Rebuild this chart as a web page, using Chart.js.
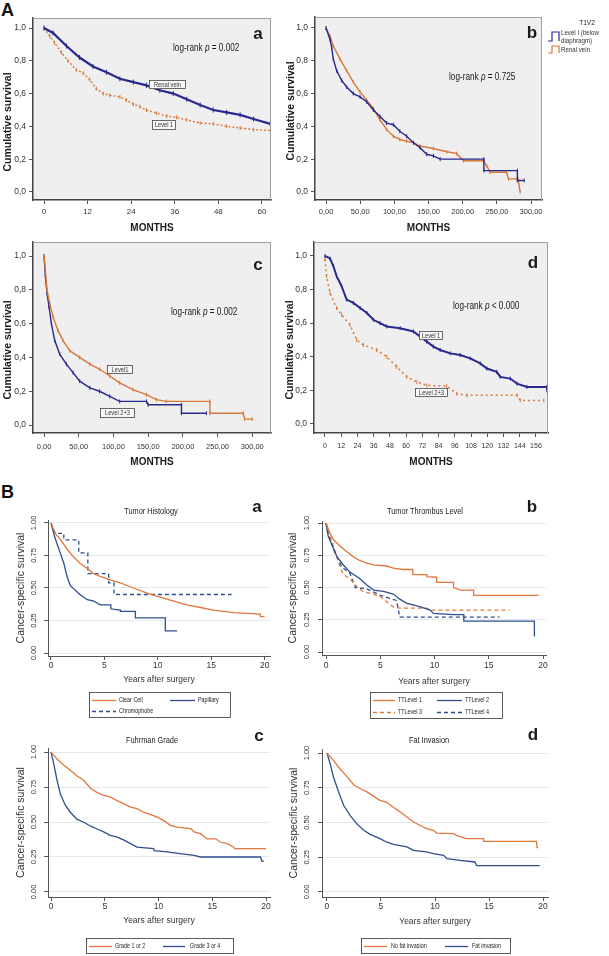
<!DOCTYPE html>
<html><head><meta charset="utf-8">
<script src="https://cdn.jsdelivr.net/npm/chart.js@4.4.1/dist/chart.umd.min.js"></script>
<style>
html,body{margin:0;padding:0;background:#fff}
body{position:relative;width:609px;height:956px;overflow:hidden;font-family:"Liberation Sans",Arial,sans-serif}
canvas{position:absolute}
.big{position:absolute;font-weight:bold;font-size:18px;line-height:1;color:#111}
</style></head><body>
<div class="big" style="left:1px;top:1px">A</div>
<div class="big" style="left:1px;top:483px">B</div>
<canvas id="Aa"></canvas><canvas id="Ab"></canvas><canvas id="Ac"></canvas><canvas id="Ad"></canvas>
<canvas id="Ba"></canvas><canvas id="Bb"></canvas><canvas id="Bc"></canvas><canvas id="Bd"></canvas>
<script>
// ================= DATA =================
// --- Panel A-a ---
const aaXTicks = [0,12,24,36,48,60];
const aaXLabels = ['0','12','24','36','48','60'];
const aYTicks = [0,0.2,0.4,0.6,0.8,1.0];
const aYLabels = ['0,0','0,2','0,4','0,6','0,8','1,0'];
const aaRenalMonths = [0,2.5,6.2,9.8,13.5,17.2,20.9,24.6,28.2,31.9,35.6,39.3,43,46.6,50.3,54,57.7,62.3];
const aaRenalSurv   = [1,0.97,0.89,0.82,0.765,0.73,0.69,0.67,0.65,0.62,0.60,0.565,0.53,0.50,0.485,0.47,0.445,0.415];
const aaLevel1Months = [0,1.6,2.9,4.8,6.6,8.9,10.8,12.6,14.4,16.3,18.1,20.9,22.7,24.6,26.4,28.2,31,33.8,36.5,39.3,43,46.6,50.3,54,57.7,62.3];
const aaLevel1Surv   = [1,0.95,0.91,0.85,0.80,0.745,0.725,0.685,0.63,0.60,0.59,0.58,0.56,0.535,0.52,0.50,0.48,0.463,0.455,0.44,0.42,0.415,0.40,0.39,0.38,0.375];
// --- Panel A-b ---
const abXTicks = [0,50,100,150,200,250,300];
const abXLabels = ['0,00','50,00','100,00','150,00','200,00','250,00','300,00'];
const abLevelIMonths = [0,5.9,8.3,10.7,15.6,22.9,30.2,40,49.8,59.5,69.3,79,88.8,98.5,108,118,128,137.6,147.3,157,167,231,231,280,280,290];
const abLevelISurv   = [1,0.93,0.88,0.81,0.74,0.68,0.64,0.60,0.58,0.55,0.50,0.46,0.42,0.41,0.37,0.34,0.30,0.27,0.23,0.22,0.20,0.20,0.13,0.13,0.07,0.07];
const abRenalMonths = [0,5.9,10.7,20.5,30.2,40,49.8,59.5,69.3,79,88.8,98.5,108,118,128,137.6,157,176.6,191,201,230,235,240,264,267,281,284];
const abRenalSurv   = [1,0.95,0.89,0.81,0.74,0.67,0.61,0.56,0.51,0.44,0.38,0.34,0.32,0.31,0.30,0.28,0.265,0.245,0.235,0.19,0.19,0.16,0.12,0.12,0.08,0.08,0.0];
// --- Panel A-c ---
const acXTicks = [0,50,100,150,200,250,300];
const acXLabels = ['0,00','50,00','100,00','150,00','200,00','250,00','300,00'];
const acLevel1Months = [0,1.9,4.3,8.2,13,20,27.4,37,51.4,66,80.3,94.7,109,128,147.6,162,176,239,239,287,289,300];
const acLevel1Surv   = [1,0.92,0.80,0.72,0.64,0.56,0.50,0.44,0.40,0.36,0.33,0.29,0.25,0.21,0.18,0.15,0.14,0.14,0.07,0.07,0.035,0.035];
const acLevel23Months = [0,1.9,4.3,7.2,10.6,15.4,22.6,32.2,41.8,51.4,66,80,94.7,109,147.6,150,198,198,234];
const acLevel23Surv   = [1,0.88,0.78,0.70,0.60,0.50,0.42,0.36,0.31,0.26,0.22,0.20,0.17,0.14,0.14,0.12,0.12,0.07,0.07];
// --- Panel A-d ---
const adXTicks = [0,12,24,36,48,60,72,84,96,108,120,132,144,156];
const adXLabels = ['0','12','24','36','48','60','72','84','96','108','120','132','144','156'];
const adLevel1Months = [0,3.7,6.2,8.6,12.3,16,21,26,31,35.8,40.7,45.7,55.6,65.4,70.4,75.3,80.2,85.2,92.6,100,107.4,114.8,119.7,127,129.6,137,142,149.3,164,164.5];
const adLevel1Surv   = [1,0.985,0.94,0.88,0.82,0.74,0.72,0.69,0.66,0.62,0.60,0.58,0.57,0.55,0.52,0.49,0.46,0.44,0.42,0.41,0.39,0.36,0.33,0.31,0.28,0.27,0.24,0.22,0.22,0.19];
const adLevel23Months = [0,1.2,3.7,8.6,12.3,18.5,23.5,28.4,38.2,45.7,53,60.5,68,75.3,90,97.5,105,142,144.4,161.8];
const adLevel23Surv   = [0.98,0.88,0.78,0.69,0.65,0.59,0.50,0.47,0.44,0.40,0.34,0.28,0.25,0.23,0.225,0.18,0.17,0.17,0.14,0.14];
// --- Panels B (shared ticks) ---
const bXTicks = [0,5,10,15,20];
const bXLabels = ['0','5','10','15','20'];
const bYTicks = [0,0.25,0.5,0.75,1];
const bYLabels = ['0.00','0.25','0.50','0.75','1.00'];
// --- Panel B-a Tumor Histology ---
const baClearYears = [0,0.4,0.9,1.5,2.1,2.7,3.4,4,4.6,5.6,6.5,7.7,9,10.2,11.5,12.7,14,15.2,17.1,19.6,19.6,20];
const baClearSurv  = [1,0.92,0.87,0.80,0.74,0.69,0.65,0.61,0.59,0.56,0.54,0.50,0.46,0.43,0.40,0.37,0.35,0.33,0.31,0.30,0.28,0.28];
const baPapYears = [0,0.25,0.56,0.87,1.2,1.5,1.8,2.3,2.7,3.4,4,4.6,5.6,5.6,6.5,6.5,7.9,7.9,10.7,10.7,11.8];
const baPapSurv  = [1,0.92,0.84,0.77,0.69,0.59,0.52,0.48,0.45,0.41,0.40,0.37,0.37,0.34,0.33,0.32,0.32,0.27,0.27,0.17,0.17];
const baChromYears = [0,0.4,1.2,1.2,2.6,2.6,3.45,3.45,5.4,5.4,5.9,5.9,16.9];
const baChromSurv  = [1,0.92,0.92,0.87,0.87,0.77,0.77,0.61,0.61,0.54,0.54,0.45,0.45];
// --- Panel B-b Tumor Thrombus Level ---
const bbTT1Years = [0,0.37,0.7,1.3,1.9,2.5,3.1,3.75,4.4,5.6,6.2,7.1,8,8,9.3,9.3,10.2,10.2,11.75,11.75,12.4,13.6,13.6,19.6];
const bbTT1Surv  = [1,0.92,0.87,0.82,0.78,0.74,0.71,0.69,0.675,0.667,0.65,0.64,0.64,0.60,0.60,0.585,0.58,0.54,0.54,0.50,0.48,0.48,0.44,0.44];
const bbTT2Years = [0,0.2,0.5,1,1.6,2.2,3.1,3.75,4.4,5.3,6.2,6.8,7.4,8.7,9.6,9.9,11.75,12.7,12.7,19.2,19.2];
const bbTT2Surv  = [1,0.90,0.84,0.74,0.675,0.62,0.57,0.52,0.48,0.47,0.45,0.41,0.38,0.35,0.325,0.30,0.29,0.29,0.24,0.24,0.12];
const bbTT3Years = [0,0.37,0.8,1.3,1.6,2.2,2.8,3.4,4.1,5,5.6,6.2,6.8,9.3,9.6,16.9];
const bbTT3Surv  = [1,0.90,0.79,0.66,0.60,0.57,0.51,0.47,0.455,0.43,0.39,0.35,0.34,0.34,0.325,0.325];
const bbTT4Years = [0,0.1,0.37,0.83,1.45,2.2,2.7,3.75,5,6.5,6.8,16];
const bbTT4Surv  = [1,0.95,0.87,0.77,0.66,0.61,0.50,0.49,0.44,0.40,0.27,0.27];
// --- Panel B-c Fuhrman Grade ---
const bcG12Years = [0,0.56,1.2,1.8,2.4,3,3.7,4.3,4.9,5.5,6.1,6.8,7.4,8,8.6,9.2,9.9,10.5,11.1,11.7,13,13.3,13.9,14.5,15.3,15.75,16.4,17,17.1,20];
const bcG12Surv  = [1,0.95,0.905,0.87,0.83,0.80,0.74,0.71,0.69,0.68,0.655,0.63,0.607,0.595,0.57,0.555,0.535,0.51,0.476,0.464,0.452,0.43,0.417,0.38,0.38,0.357,0.345,0.32,0.31,0.31];
const bcG34Years = [0,0.25,0.56,0.87,1.33,1.8,2.4,3,3.7,4.3,4.9,5.5,6.1,6.8,7.4,8,9.55,9.6,10.8,12,13.3,13.9,19.5,19.6,19.8];
const bcG34Surv  = [1,0.917,0.80,0.70,0.62,0.57,0.52,0.50,0.47,0.45,0.43,0.405,0.393,0.37,0.345,0.32,0.31,0.295,0.286,0.274,0.262,0.25,0.25,0.22,0.22];
// --- Panel B-d Fat Invasion ---
const bdNoFatYears = [0,0.6,1.2,1.85,2.5,3.1,3.7,4.3,4.9,5.5,6.15,6.8,7.4,8,8.6,9.2,9.85,10.15,11.7,12,12.9,14.5,14.5,19.4,19.45,19.55];
const bdNoFatSurv  = [1,0.947,0.887,0.83,0.77,0.743,0.72,0.69,0.66,0.647,0.61,0.575,0.54,0.504,0.48,0.456,0.444,0.424,0.42,0.408,0.384,0.384,0.364,0.364,0.32,0.32];
const bdFatYears = [0,0.3,0.6,1.08,1.54,2.15,2.77,3.4,4,4.9,5.5,6.15,7.4,8,9.2,9.85,10.8,11.1,12.3,13.7,13.85,19.7];
const bdFatSurv  = [1,0.923,0.827,0.72,0.624,0.55,0.49,0.444,0.415,0.384,0.36,0.343,0.324,0.30,0.288,0.276,0.264,0.24,0.228,0.216,0.19,0.19];

// ================= STYLE =================
const NARROW = '"Liberation Sans", Arial, sans-serif';
const REG = '"Liberation Sans", Arial, sans-serif';
const NAVY = '#28288e', AOR = '#d9783b';
const BOR = '#e2773b', BBL = '#2f4e8f';

const panels = [
 {id:'Aa', kind:'A', left:0, top:10, w:282, h:228, plot:{l:33,t:18,r:271,b:200}, xH:38,
  xMin:-3.03, xMax:62.5, yMin:-0.049, yMax:1.061, xTicks:aaXTicks, xLabels:aaXLabels, yTicks:aYTicks, yLabels:aYLabels,
  xTickPad:3, xTickSize:8, xTitle:'MONTHS', xTitlePad:4,
  series:[
   {label:'Renal vein', t:aaRenalMonths, s:aaRenalSurv, color:NAVY, width:2.2, marks:2.5},
   {label:'Level 1', t:aaLevel1Months, s:aaLevel1Surv, color:AOR, width:1.4, dash:[2,2], marks:2}],
  texts:[{t:'Cumulative survival', x:8, y:122, size:10.5, weight:'bold', rot:-90, sx:1},
         {parts:[['log-rank ',''],['p','i'],[' = 0.002','']], x:173, y:48, size:10, align:'left'},
         {t:'a', x:258, y:34, size:17, weight:'bold', sx:1}],
  boxes:[{t:'Renal vein', x1:149,y1:80,x2:186,y2:89},{t:'Level 1', x1:152,y1:120,x2:176,y2:130}]},
 {id:'Ab', kind:'A', left:282, top:10, w:327, h:228, plot:{l:315,t:17,r:542,b:200}, xH:38,
  xMin:-16.1, xMax:316, yMin:-0.049, yMax:1.067, xTicks:abXTicks, xLabels:abXLabels, yTicks:aYTicks, yLabels:aYLabels,
  xTickPad:3, xTickSize:7.5, xTitle:'MONTHS', xTitlePad:4,
  series:[
   {label:'Level I (below diaphragm)', t:abLevelIMonths, s:abLevelISurv, color:NAVY, width:1.4, marks:2},
   {label:'Renal vein', t:abRenalMonths, s:abRenalSurv, color:AOR, width:1.4, marks:1.8}],
  texts:[{t:'Cumulative survival', x:291, y:111, size:10.5, weight:'bold', rot:-90, sx:1},
         {parts:[['log-rank ',''],['p','i'],[' = 0.725','']], x:449, y:77, size:10, align:'left'},
         {t:'b', x:532, y:33, size:17, weight:'bold', sx:1},
         {t:'T1V2', x:587, y:23, size:8}],
  stepLegend:[{ds:0, lines:['Level I (below','diaphragm)'], y1:32, y2:41, ty:33},
              {ds:1, lines:['Renal vein'], y1:46, y2:53, ty:50}]},
 {id:'Ac', kind:'A', left:0, top:238, w:282, h:232, plot:{l:33,t:242,r:271,b:433}, xH:37,
  xMin:-15.9, xMax:327, yMin:-0.047, yMax:1.083, xTicks:acXTicks, xLabels:acXLabels, yTicks:aYTicks, yLabels:aYLabels,
  xTickPad:5, xTickSize:7.5, xTitle:'MONTHS', xTitlePad:2,
  series:[
   {label:'Level1', t:acLevel1Months, s:acLevel1Surv, color:AOR, width:1.4, marks:2},
   {label:'Level 2+3', t:acLevel23Months, s:acLevel23Surv, color:NAVY, width:1.4, marks:2}],
  texts:[{t:'Cumulative survival', x:8, y:350, size:10.5, weight:'bold', rot:-90, sx:1},
         {parts:[['log-rank ',''],['p','i'],[' = 0.002','']], x:171, y:312, size:10, align:'left'},
         {t:'c', x:258, y:265, size:17, weight:'bold', sx:1}],
  boxes:[{t:'Level1', x1:107,y1:365,x2:133,y2:374},{t:'Level 2+3', x1:100,y1:408,x2:135,y2:418}]},
 {id:'Ad', kind:'A', left:282, top:238, w:327, h:232, plot:{l:314,t:242,r:548,b:433}, xH:37,
  xMin:-8.1, xMax:164.9, yMin:-0.054, yMax:1.083, xTicks:adXTicks, xLabels:adXLabels, yTicks:aYTicks, yLabels:aYLabels,
  xTickPad:5, xTickSize:7, xTitle:'MONTHS', xTitlePad:2,
  series:[
   {label:'Level 1', t:adLevel1Months, s:adLevel1Surv, color:NAVY, width:2, marks:2},
   {label:'Level 2+3', t:adLevel23Months, s:adLevel23Surv, color:AOR, width:1.5, dash:[2,3], marks:2}],
  texts:[{t:'Cumulative survival', x:290, y:350, size:10.5, weight:'bold', rot:-90, sx:1},
         {parts:[['log-rank ',''],['p','i'],[' < 0.000','']], x:453, y:306, size:10, align:'left'},
         {t:'d', x:533, y:263, size:17, weight:'bold', sx:1}],
  boxes:[{t:'Level 1', x1:419,y1:331,x2:443,y2:340},{t:'Level 2+3', x1:415,y1:388,x2:448,y2:397}]},
 {id:'Ba', kind:'B', left:0, top:500, w:300, h:222, plot:{l:48,t:520,r:270,b:656}, xH:34,
  xMin:-0.28, xMax:20.5, yMin:-0.023, yMax:1.023, xTicks:bXTicks, xLabels:bXLabels, yTicks:bYTicks, yLabels:bYLabels,
  xTickPad:0.5, xTickSize:8.5, xTitle:'Years after surgery', xTitlePad:5, yTitlePad:15, yTickPad:2.6,
  series:[
   {label:'Clear Cell', t:baClearYears, s:baClearSurv, color:BOR, width:1.3},
   {label:'Papillary', t:baPapYears, s:baPapSurv, color:BBL, width:1.3},
   {label:'Chromophobe', t:baChromYears, s:baChromSurv, color:BBL, width:1.3, dash:[4,3]}],
  texts:[{t:'Tumor Histology', x:151, y:512, size:9},{t:'a', x:257, y:507, size:17, weight:'bold', sx:1}],
  legend:{box:[89,692,230,717], items:[{ds:0,l1:92,l2:116,tx:119,y:700},{ds:1,l1:170,l2:195,tx:198,y:700},{ds:2,l1:92,l2:116,tx:119,y:711}]}},
 {id:'Bb', kind:'B', left:274, top:500, w:335, h:222, plot:{l:322,t:521,r:546,b:655}, xH:35,
  xMin:-0.37, xMax:20.27, yMin:-0.023, yMax:1.016, xTicks:bXTicks, xLabels:bXLabels, yTicks:bYTicks, yLabels:bYLabels,
  xTickPad:1.5, xTickSize:8.5, xTitle:'Years after surgery', xTitlePad:3, yTitlePad:13, yTickPad:3.6,
  series:[
   {label:'TTLevel 1', t:bbTT1Years, s:bbTT1Surv, color:BOR, width:1.3},
   {label:'TTLevel 2', t:bbTT2Years, s:bbTT2Surv, color:BBL, width:1.3},
   {label:'TTLevel 3', t:bbTT3Years, s:bbTT3Surv, color:BOR, width:1.3, dash:[4,3]},
   {label:'TTLevel 4', t:bbTT4Years, s:bbTT4Surv, color:BBL, width:1.3, dash:[4,3]}],
  texts:[{t:'Tumor Thrombus Level', x:425, y:512, size:9},{t:'b', x:532, y:507, size:17, weight:'bold', sx:1}],
  legend:{box:[370,692,502,718], items:[{ds:0,l1:373,l2:395,tx:398,y:700},{ds:1,l1:437,l2:462,tx:465,y:700},{ds:2,l1:373,l2:395,tx:398,y:712},{ds:3,l1:437,l2:462,tx:465,y:712}]}},
 {id:'Bc', kind:'B', left:0, top:722, w:300, h:234, plot:{l:48,t:748,r:270,b:897}, xH:34,
  xMin:-0.28, xMax:20.37, yMin:-0.036, yMax:1.029, xTicks:bXTicks, xLabels:bXLabels, yTicks:bYTicks, yLabels:bYLabels,
  xTickPad:0.5, xTickSize:8.5, xTitle:'Years after surgery', xTitlePad:5, yTitlePad:15, yTickPad:2.6,
  series:[
   {label:'Grade 1 or 2', t:bcG12Years, s:bcG12Surv, color:BOR, width:1.3},
   {label:'Grade 3 or 4', t:bcG34Years, s:bcG34Surv, color:BBL, width:1.3}],
  texts:[{t:'Fuhrman Grade', x:152, y:741, size:9},{t:'c', x:259, y:736, size:17, weight:'bold', sx:1}],
  legend:{box:[86,938,233,953], items:[{ds:0,l1:89,l2:112,tx:115,y:946},{ds:1,l1:163,l2:185,tx:190,y:946}]}},
 {id:'Bd', kind:'B', left:274, top:722, w:335, h:234, plot:{l:322,t:749,r:548,b:897}, xH:34,
  xMin:-0.46, xMax:20.46, yMin:-0.036, yMax:1.029, xTicks:bXTicks, xLabels:bXLabels, yTicks:bYTicks, yLabels:bYLabels,
  xTickPad:0.5, xTickSize:8.5, xTitle:'Years after surgery', xTitlePad:4, yTitlePad:14, yTickPad:3.6,
  series:[
   {label:'No fat invasion', t:bdNoFatYears, s:bdNoFatSurv, color:BOR, width:1.3},
   {label:'Fat invasion', t:bdFatYears, s:bdFatSurv, color:BBL, width:1.3}],
  texts:[{t:'Fat Invasion', x:429, y:741, size:9},{t:'d', x:533, y:735, size:17, weight:'bold', sx:1}],
  legend:{box:[361,938,510,953], items:[{ds:0,l1:364,l2:387,tx:391,y:946},{ds:1,l1:445,l2:468,tx:472,y:946}]}}
];

// ================= DRAWING =================
const SPEC = {};
function drawText(ctx, e, ox, oy){
  ctx.save();
  ctx.translate(e.x - ox, e.y - oy);
  if (e.rot) ctx.rotate(e.rot * Math.PI / 180);
  const sx = e.sx !== undefined ? e.sx : 0.82;   // condensed look of the original lettering
  ctx.scale(sx, 1);
  ctx.fillStyle = e.color || '#1a1a1a';
  ctx.textBaseline = 'middle';
  ctx.textAlign = 'left';
  const parts = e.parts || [[e.t, '']];
  const fam = e.family || REG;
  const fontOf = st => (st === 'i' ? 'italic ' : '') + (e.weight || 'normal') + ' ' + e.size + 'px ' + fam;
  let total = 0;
  parts.forEach(pp => { ctx.font = fontOf(pp[1]); total += ctx.measureText(pp[0]).width; });
  let x = e.align === 'left' ? 0 : (e.align === 'right' ? -total : -total / 2);
  parts.forEach(pp => { ctx.font = fontOf(pp[1]); ctx.fillText(pp[0], x, 0); x += ctx.measureText(pp[0]).width; });
  ctx.restore();
}
const decor = {
  id: 'decor',
  beforeDraw(chart) {
    const p = SPEC[chart.canvas.id]; const a = chart.chartArea; const ctx = chart.ctx;
    if (p.kind === 'A') {
      ctx.save(); ctx.fillStyle = '#efefef';
      ctx.fillRect(a.left, a.top, a.right - a.left, a.bottom - a.top);
      ctx.restore();
    }
  },
  afterDraw(chart) {
    const p = SPEC[chart.canvas.id]; const a = chart.chartArea; const ctx = chart.ctx;
    const ox = p.left, oy = p.top;
    ctx.save();
    if (p.kind === 'A') {
      ctx.strokeStyle = '#a0a0a0'; ctx.lineWidth = 1;
      ctx.beginPath();
      ctx.moveTo(a.left, a.top + 0.5); ctx.lineTo(a.right - 0.5, a.top + 0.5); ctx.lineTo(a.right - 0.5, a.bottom);
      ctx.stroke();
    }
    (p.boxes || []).forEach(b => {
      ctx.fillStyle = '#f8f8f8';
      ctx.fillRect(b.x1 - ox, b.y1 - oy, b.x2 - b.x1, b.y2 - b.y1);
      ctx.strokeStyle = '#444'; ctx.lineWidth = 0.8;
      ctx.strokeRect(b.x1 - ox + 0.5, b.y1 - oy + 0.5, b.x2 - b.x1 - 1, b.y2 - b.y1 - 1);
      drawText(ctx, {t: b.t, x: (b.x1 + b.x2) / 2, y: (b.y1 + b.y2) / 2 + 0.5, size: 7, color: '#333'}, ox, oy);
    });
    (p.texts || []).forEach(t => drawText(ctx, t, ox, oy));
    if (p.stepLegend) {
      p.stepLegend.forEach(it => {
        const ds = chart.data.datasets[it.ds];
        ctx.strokeStyle = ds.borderColor; ctx.lineWidth = 1.2; ctx.setLineDash([]);
        ctx.beginPath();
        ctx.moveTo(548 - ox, it.y2 - oy); ctx.lineTo(552 - ox, it.y2 - oy); ctx.lineTo(552 - ox, it.y1 - oy);
        ctx.lineTo(559 - ox, it.y1 - oy); ctx.lineTo(559 - ox, it.y2 - oy);
        ctx.stroke();
        it.lines.forEach((ln, k) => drawText(ctx, {t: ln, x: 561, y: it.ty + k * 8, size: 7.5, align: 'left', color: '#333'}, ox, oy));
      });
    }
    if (p.legend) {
      const bx = p.legend.box;
      ctx.strokeStyle = '#333'; ctx.lineWidth = 0.8; ctx.setLineDash([]);
      ctx.strokeRect(bx[0] - ox + 0.5, bx[1] - oy + 0.5, bx[2] - bx[0], bx[3] - bx[1]);
      p.legend.items.forEach(it => {
        const ds = chart.data.datasets[it.ds];
        ctx.strokeStyle = ds.borderColor; ctx.lineWidth = ds.borderWidth;
        ctx.setLineDash(ds.borderDash || []);
        ctx.beginPath(); ctx.moveTo(it.l1 - ox, it.y - oy + 0.5); ctx.lineTo(it.l2 - ox, it.y - oy + 0.5); ctx.stroke();
        ctx.setLineDash([]);
        drawText(ctx, {t: ds.label, x: it.tx, y: it.y, size: 7.5, sx: 0.72, align: 'left', color: '#222'}, ox, oy);
      });
    }
    ctx.restore();
  }
};

function makeChart(p) {
  const cv = document.getElementById(p.id);
  cv.width = p.w; cv.height = p.h;
  cv.style.left = p.left + 'px'; cv.style.top = p.top + 'px';
  cv.style.width = p.w + 'px'; cv.style.height = p.h + 'px';
  SPEC[p.id] = p;
  const isA = p.kind === 'A';
  const yW = p.plot.l - p.left, xH = p.xH;
  const pad = {left: 0, top: p.plot.t - p.top, right: p.left + p.w - p.plot.r, bottom: p.top + p.h - p.plot.b - xH};
  const datasets = p.series.map(s => ({
    label: s.label,
    data: s.t.map((v, i) => ({x: v, y: s.s[i]})),
    borderColor: s.color, backgroundColor: s.color, borderWidth: s.width, borderDash: s.dash || [],
    pointStyle: 'line', pointRotation: 90, pointRadius: s.marks || 0, pointHoverRadius: 0,
    pointBorderColor: s.color, pointBorderWidth: 1,
    tension: 0, fill: false, spanGaps: true, borderCapStyle: 'butt', borderJoinStyle: 'miter'
  }));
  new Chart(cv, {
    type: 'line',
    data: {datasets},
    options: {
      responsive: false, maintainAspectRatio: false, animation: false, devicePixelRatio: 1, events: [],
      layout: {padding: pad},
      plugins: {legend: {display: false}, tooltip: {enabled: false}, title: {display: false}},
      scales: {
        x: {
          type: 'linear', min: p.xMin, max: p.xMax,
          afterBuildTicks: sc => { sc.ticks = p.xTicks.map(v => ({value: v})); },
          afterFit: sc => { sc.height = xH; sc.paddingLeft = 0; sc.paddingRight = 0; },
          ticks: {autoSkip: false, maxRotation: 0, minRotation: 0, padding: p.xTickPad, color: '#333',
                  font: {family: REG, size: p.xTickSize}, callback: (v, i) => p.xLabels[i]},
          grid: {display: true, drawOnChartArea: false, drawTicks: true, tickLength: 4, tickColor: '#555', tickWidth: 1},
          border: {display: true, color: isA ? '#444' : '#555', width: isA ? 1.5 : 1},
          title: {display: true, text: p.xTitle, color: isA ? '#1a1a1a' : '#333',
                  font: isA ? {family: REG, size: 10, weight: 'bold'} : {family: REG, size: 8.5},
                  padding: {top: 0, bottom: p.xTitlePad}}
        },
        y: {
          type: 'linear', min: p.yMin, max: p.yMax,
          afterBuildTicks: sc => { sc.ticks = p.yTicks.map(v => ({value: v})); },
          afterFit: sc => { sc.width = yW; sc.paddingTop = 0; sc.paddingBottom = 0; },
          ticks: isA
            ? {padding: 3, color: '#333', font: {family: REG, size: 8.5}, callback: (v, i) => p.yLabels[i]}
            : {padding: p.yTickPad, color: '#333', font: {family: REG, size: 7.5}, minRotation: 90, maxRotation: 90,
               crossAlign: 'center', callback: (v, i) => p.yLabels[i]},
          grid: isA
            ? {display: true, drawOnChartArea: false, drawTicks: true, tickLength: 4, tickColor: '#555'}
            : {display: true, drawOnChartArea: true, color: '#e4e9ee', drawTicks: true, tickLength: 4, tickColor: '#555'},
          border: {display: true, color: isA ? '#444' : '#555', width: isA ? 1.5 : 1},
          title: isA ? {display: false}
            : {display: true, text: 'Cancer-specific survival', color: '#333', font: {family: REG, size: 10.5},
               padding: {top: p.yTitlePad, bottom: 0}}
        }
      }
    },
    plugins: [decor]
  });
}
panels.forEach(makeChart);
</script>
</body></html>
